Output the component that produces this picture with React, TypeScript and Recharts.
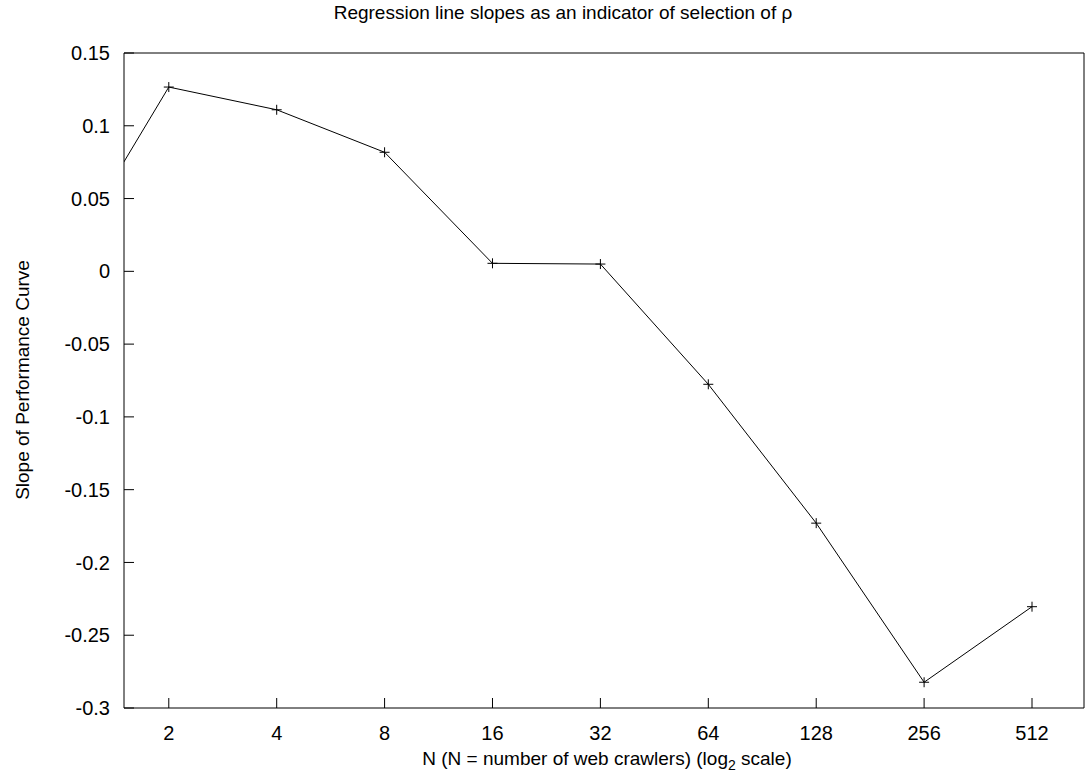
import { LineChart, Line, XAxis, YAxis, Customized } from 'recharts';

// N values (log2 scale) and the regression slope read at each
const crawlers = [1, 2, 4, 8, 16, 32, 64, 128, 256, 512];
const slopes = [0.003, 0.1266, 0.111, 0.0818, 0.0055, 0.005, -0.0776, -0.173, -0.2823, -0.2304];

const xTicks = [2, 4, 8, 16, 32, 64, 128, 256, 512];
const yTicks = [-0.3, -0.25, -0.2, -0.15, -0.1, -0.05, 0, 0.05, 0.1, 0.15];

const X_DOMAIN = [1.5, 715];
const Y_DOMAIN = [-0.3, 0.15];

const FONT = '"Liberation Sans", Arial, Helvetica, sans-serif';

const data = crawlers.map((n, i) => ({ n, slope: slopes[i] }));

function PlusDot(props: any) {
  const { cx, cy, payload } = props;
  if (cx == null || cy == null || payload.n < X_DOMAIN[0]) return <g />;
  return (
    <g stroke="#000" strokeWidth={1}>
      <line x1={cx - 5} y1={cy} x2={cx + 5} y2={cy} />
      <line x1={cx} y1={cy - 5} x2={cx} y2={cy + 5} />
    </g>
  );
}

function Texts() {
  return (
    <g fontFamily={FONT} fill="#000">
      <text x={563} y={19} fontSize={19} textAnchor="middle">
        Regression line slopes as an indicator of selection of ρ
      </text>
      <text x={607} y={765} fontSize={19} textAnchor="middle">
        N (N = number of web crawlers) (log
        <tspan fontSize={14} dy={5}>2</tspan>
        <tspan dy={-5}> scale)</tspan>
      </text>
      <text
        x={29}
        y={380}
        fontSize={19}
        textAnchor="middle"
        transform="rotate(-90 29 380)"
      >
        Slope of Performance Curve
      </text>
    </g>
  );
}

export default function App() {
  const tickStyle = { fill: '#000', fontSize: 20, fontFamily: FONT };
  return (
    <div style={{ position: 'absolute', left: 0, top: 0, width: 1086, height: 778, background: '#fff' }}>
      <LineChart
        width={1086}
        height={778}
        data={data}
        margin={{ top: 52, right: 1, bottom: 20, left: 24 }}
      >
        <XAxis
          xAxisId="bottom"
          dataKey="n"
          type="number"
          scale="log"
          domain={X_DOMAIN}
          allowDataOverflow
          ticks={xTicks}
          interval={0}
          height={50}
          tickSize={-10}
          tickMargin={28}
          tick={tickStyle}
          axisLine={{ stroke: '#000' }}
          tickLine={{ stroke: '#000' }}
        />
        <XAxis
          xAxisId="top"
          orientation="top"
          dataKey="n"
          type="number"
          scale="log"
          domain={X_DOMAIN}
          allowDataOverflow
          ticks={xTicks}
          interval={0}
          height={1}
          tickSize={-10}
          tick={false}
          axisLine={{ stroke: '#000' }}
          tickLine={{ stroke: '#000' }}
        />
        <YAxis
          yAxisId="left"
          type="number"
          domain={Y_DOMAIN}
          allowDataOverflow
          ticks={yTicks}
          interval={0}
          width={100}
          tickSize={-10}
          tickMargin={24}
          tick={tickStyle}
          axisLine={{ stroke: '#000' }}
          tickLine={{ stroke: '#000' }}
        />
        <YAxis
          yAxisId="right"
          orientation="right"
          type="number"
          domain={Y_DOMAIN}
          allowDataOverflow
          ticks={yTicks}
          interval={0}
          width={1}
          tickSize={-10}
          tick={false}
          axisLine={{ stroke: '#000' }}
          tickLine={{ stroke: '#000' }}
        />
        <Line
          xAxisId="bottom"
          yAxisId="left"
          dataKey="slope"
          type="linear"
          stroke="#000"
          strokeWidth={1}
          dot={<PlusDot />}
          activeDot={false}
          isAnimationActive={false}
        />
        <Customized component={Texts} />
      </LineChart>
    </div>
  );
}
